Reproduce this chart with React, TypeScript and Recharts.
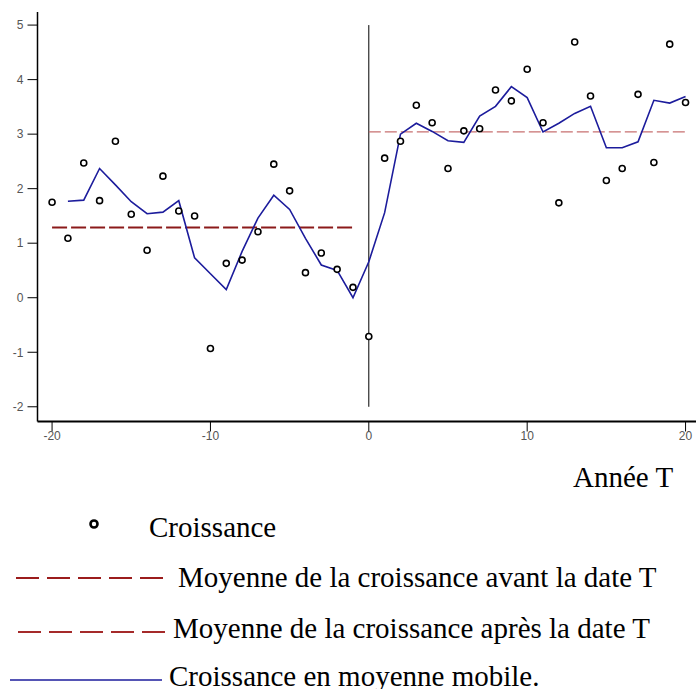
import React from "react";
import {
  ComposedChart,
  Line,
  Scatter,
  XAxis,
  YAxis,
  ReferenceLine,
} from "recharts";

const annees = [
  -20, -19, -18, -17, -16, -15, -14, -13, -12, -11, -10, -9, -8, -7, -6, -5, -4, -3, -2, -1,
  0, 1, 2, 3, 4, 5, 6, 7, 8, 9, 10, 11, 12, 13, 14, 15, 16, 17, 18, 19, 20,
];

const croissance = [
  1.75, 1.09, 2.47, 1.78, 2.87, 1.53, 0.87, 2.23, 1.59, 1.5, -0.93, 0.63, 0.69, 1.21, 2.45, 1.96, 0.46, 0.82, 0.52, 0.19,
  -0.71, 2.56, 2.87, 3.53, 3.21, 2.37, 3.06, 3.1, 3.81, 3.61, 4.19, 3.21, 1.74, 4.69, 3.7, 2.15, 2.37, 3.73, 2.48, 4.65, 3.58,
];

const moyenneMobile = [
  null, 1.77, 1.79, 2.37, 2.07, 1.76, 1.54, 1.57, 1.78, 0.73, 0.44, 0.15, 0.85, 1.46, 1.88, 1.62, 1.09, 0.6, 0.5, 0.0,
  0.66, 1.56, 3.0, 3.2, 3.05, 2.88, 2.85, 3.33, 3.51, 3.87, 3.67, 3.04, 3.2, 3.38, 3.51, 2.75, 2.75, 2.86, 3.62, 3.57, 3.69,
];

const moyenneAvant = 1.29;
const moyenneApres = 3.04;

const yTicks = [-2, -1, 0, 1, 2, 3, 4, 5];
const xTicks = [-20, -10, 0, 10, 20];

const legendLabels = [
  "Croissance",
  "Moyenne de la croissance avant la date T",
  "Moyenne de la croissance après la date T",
  "Croissance en moyenne mobile.",
];

const data = annees.map((t, i) => ({
  t,
  croissance: croissance[i],
  mobile: moyenneMobile[i],
}));

const tickStyle = { fontSize: 12, fill: "#555", fontFamily: "Liberation Sans Narrow, Liberation Sans, Arial, sans-serif" };
const serif = "Liberation Serif, Times New Roman, Times, DejaVu Serif, serif";

const Ring = (props: any) => {
  const { cx, cy } = props;
  if (cx == null || cy == null) return null;
  return <circle cx={cx} cy={cy} r={3} fill="#fff" stroke="#000" strokeWidth={1.6} />;
};

function Legende() {
  return (
    <svg width={696} height={189} style={{ position: "absolute", left: 0, top: 500 }}>
      <circle cx={94} cy={24} r={3.5} fill="#fff" stroke="#000" strokeWidth={2.6} />
      <text x={149} y={37} fontFamily={serif} fontSize={29} fill="#000">
        {legendLabels[0]}
      </text>
      <line x1={16} y1={78} x2={165} y2={78} stroke="#9b1c1c" strokeWidth={2} strokeDasharray="23 8" />
      <text x={178} y={87} fontFamily={serif} fontSize={29} fill="#000">
        {legendLabels[1]}
      </text>
      <line x1={18} y1={132} x2={167} y2={132} stroke="#a52a2a" strokeWidth={2} strokeDasharray="23 8" />
      <text x={173} y={138} fontFamily={serif} fontSize={29} fill="#000">
        {legendLabels[2]}
      </text>
      <line x1={10} y1={180} x2={162} y2={180} stroke="#1c1c9c" strokeWidth={1.6} />
      <text x={169} y={186} fontFamily={serif} fontSize={29} fill="#000">
        {legendLabels[3]}
      </text>
    </svg>
  );
}

export default function App() {
  return (
    <div style={{ position: "absolute", left: 0, top: 0, width: 696, height: 689, background: "#fff" }}>
      <ComposedChart
        width={696}
        height={689}
        data={data}
        margin={{ top: 12, right: 0, bottom: 237.5, left: 0.5 }}
      >
        <XAxis
          dataKey="t"
          type="number"
          domain={[-20.92, 20.66]}
          ticks={xTicks}
          allowDataOverflow
          height={30}
          tickSize={10}
          tickMargin={0}
          tick={tickStyle}
          axisLine={{ stroke: "#000", strokeWidth: 2 }}
          tickLine={{ stroke: "#000" }}
        />
        <YAxis
          type="number"
          domain={[-2.27, 5.24]}
          ticks={yTicks}
          allowDataOverflow
          width={37}
          tickSize={10}
          tickMargin={4}
          tick={tickStyle}
          axisLine={{ stroke: "#000", strokeWidth: 1.5 }}
          tickLine={{ stroke: "#000" }}
        />
        <ReferenceLine
          segment={[
            { x: 0, y: -2 },
            { x: 0, y: 5 },
          ]}
          stroke="#000"
          strokeWidth={1}
        />
        <ReferenceLine
          segment={[
            { x: -20, y: moyenneAvant },
            { x: -1, y: moyenneAvant },
          ]}
          stroke="#8b1a1a"
          strokeWidth={2}
          strokeDasharray="15 4"
        />
        <ReferenceLine
          segment={[
            { x: 0, y: moyenneApres },
            { x: 20.1, y: moyenneApres },
          ]}
          stroke="#c87070"
          strokeWidth={1.2}
          strokeDasharray="12 4"
        />
        <Line
          dataKey="mobile"
          stroke="#1c1c9c"
          strokeWidth={1.6}
          dot={false}
          activeDot={false}
          isAnimationActive={false}
          type="linear"
        />
        <Scatter dataKey="croissance" shape={<Ring />} isAnimationActive={false} />
      </ComposedChart>
      <div
        style={{
          position: "absolute",
          left: 573,
          top: 461,
          fontFamily: serif,
          fontSize: 29,
          lineHeight: "32px",
          whiteSpace: "nowrap",
        }}
      >
        Année T
      </div>
      <Legende />
    </div>
  );
}
